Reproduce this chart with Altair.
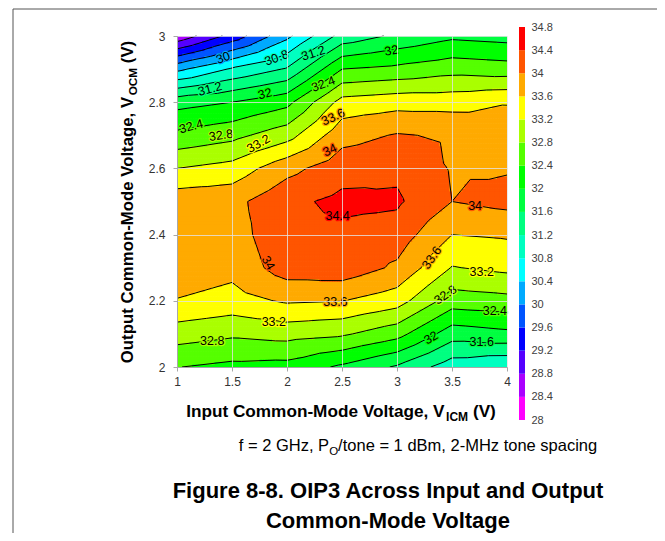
import altair as alt
import pandas as pd

# ------------------------------------------------------------------ data
vicm = [1.0, 1.5, 2.0, 2.5, 3.0, 3.5, 4.0]                                   # x grid, V
vocm = [2.0, 2.1, 2.2, 2.3, 2.4, 2.5, 2.6, 2.7, 2.8, 2.9, 3.0]               # y grid, V
# OIP3 (dBm): one row per VOCM value (2.0 ... 3.0), one column per VICM value (1 ... 4)
oip3_rows = [
    [32.41, 32.30, 32.26, 31.93, 31.55, 30.98, 30.83],   # 2.0
    [32.99, 32.87, 32.95, 32.86, 32.55, 31.78, 31.90],   # 2.1
    [33.58, 33.45, 33.65, 33.61, 33.38, 32.60, 32.67],   # 2.2
    [33.85, 33.72, 34.20, 34.25, 33.93, 33.18, 33.30],   # 2.3
    [33.90, 33.82, 34.30, 34.30, 34.22, 33.60, 33.65],   # 2.4
    [33.85, 33.88, 34.30, 34.50, 34.46, 34.00, 34.12],   # 2.5
    [33.20, 33.35, 33.87, 34.24, 34.32, 33.97, 33.97],   # 2.6
    [32.50, 32.68, 33.04, 33.85, 34.03, 33.95, 33.80],   # 2.7
    [31.85, 32.00, 32.28, 33.35, 33.45, 33.45, 33.58],   # 2.8
    [30.30, 30.85, 31.24, 32.40, 32.50, 32.65, 32.58],   # 2.9
    [28.50, 29.35, 30.30, 31.35, 31.68, 31.92, 31.85],   # 3.0
]
levels = [28.0, 28.4, 28.8, 29.2, 29.6, 30.0, 30.4, 30.8, 31.2, 31.6,
          32.0, 32.4, 32.8, 33.2, 33.6, 34.0, 34.4, 34.8]
band_colors = ["#FF00FF", "#AA00FF", "#5500FF", "#0000FF", "#0055FF", "#00AAFF",
               "#00FFFF", "#00FFC0", "#00FF80", "#00FF40", "#00FF00", "#55FF00",
               "#AAFF00", "#FFFF00", "#FFAA00", "#FF5500", "#FF0000"]
x_ticks = [1, 1.5, 2, 2.5, 3, 3.5, 4]
y_ticks = [2, 2.2, 2.4, 2.6, 2.8, 3]

# inline contour labels: position (V, V), level, text angle
label_vicm = [1.42, 1.906, 2.24, 2.95, 1.30, 1.80, 2.33, 1.13, 1.40, 1.74, 2.42, 2.39,
              1.83, 2.46, 2.44, 1.88, 1.32, 3.315, 3.44, 3.31, 3.71, 3.77, 3.89, 3.77]
label_vocm = [2.934, 2.934, 2.948, 2.956, 2.84, 2.825, 2.855, 2.727, 2.70, 2.675, 2.755, 2.655,
              2.314, 2.455, 2.197, 2.136, 2.08, 2.33, 2.218, 2.088, 2.485, 2.287, 2.168, 2.077]
label_level = [30.0, 30.8, 31.2, 32.0, 31.2, 32.0, 32.4, 32.4, 32.8, 33.2, 33.6, 34.0,
               34.0, 34.4, 33.6, 33.2, 32.8, 33.6, 32.8, 32.0, 34.0, 33.2, 32.4, 31.6]
label_angle = [-20, -20, -18, -10, -15, -15, -20, -15, -8, -30, -25, -25,
               60, 0, 0, 0, 0, -55, -35, -30, 0, 0, 0, 0]

# ------------------------------------------------------------------ helpers
FONT = "Liberation Sans"
W, H = 330, 331
NXg, NYg = len(vicm), len(vocm)
X0, Y0 = vicm[0], vocm[0]
DX = vicm[1] - vicm[0]
DY = round(vocm[1] - vocm[0], 10)

grid_df = pd.DataFrame(
    [{"key": f"{i}_{j}", "v": oip3_rows[j][i]} for j in range(NYg) for i in range(NXg)]
)
thresholds = levels[1:-1]
color_scale = alt.Scale(type="threshold", domain=thresholds, range=band_colors)
xs = alt.Scale(domain=[vicm[0], vicm[-1]], nice=False, zero=False)
ys = alt.Scale(domain=[vocm[0], vocm[-1]], nice=False, zero=False)

axis_common = dict(format="~g", title=None, grid=True, gridColor="#e4e4e4", gridOpacity=0.8,
                   gridWidth=1, domainColor="#a8a8a8", tickColor="#a8a8a8", tickSize=4,
                   labelFlush=False, labelFont=FONT, labelFontSize=12, labelColor="#333333",
                   zindex=1)
x_axis = alt.Axis(values=x_ticks, labelPadding=5, **axis_common)
y_axis = alt.Axis(values=y_ticks, labelPadding=8, **axis_common)

KEYS = dict(
    ka="datum.gi + '_' + datum.gj",
    kb="(datum.gi + 1) + '_' + datum.gj",
    kc="(datum.gi + 1) + '_' + (datum.gj + 1)",
    kd="datum.gi + '_' + (datum.gj + 1)",
)


def with_corners(ch):
    for nm, k in (("va", "ka"), ("vb", "kb"), ("vc", "kc"), ("vd", "kd")):
        ch = ch.transform_lookup(lookup=k,
                                 from_=alt.LookupData(data=grid_df, key="key", fields=["v"]),
                                 as_=[nm])
    return ch.transform_calculate(m="(datum.va + datum.vb + datum.vc + datum.vd) / 4")


# ------------------------------------------------------------------ filled bands (raster of the
# piecewise-linear surface: each grid cell split into 4 triangles around its centre)
NX, NY = 132, 132
sx = (vicm[-1] - X0) / NX
sy = (vocm[-1] - Y0) / NY
VAL = (
    "(datum.ty <= min(datum.tx, 1 - datum.tx)) ? "
    "(datum.va + (datum.vb - datum.va) * datum.tx + (2 * datum.m - datum.va - datum.vb) * datum.ty) : "
    "((1 - datum.tx) <= min(datum.ty, 1 - datum.ty)) ? "
    "(datum.vb + (datum.vc - datum.vb) * datum.ty + (2 * datum.m - datum.vb - datum.vc) * (1 - datum.tx)) : "
    "((1 - datum.ty) <= min(datum.tx, 1 - datum.tx)) ? "
    "(datum.vd + (datum.vc - datum.vd) * datum.tx + (2 * datum.m - datum.vc - datum.vd) * (1 - datum.ty)) : "
    "(datum.va + (datum.vd - datum.va) * datum.ty + (2 * datum.m - datum.va - datum.vd) * datum.tx)"
)
raster = alt.Chart(alt.sequence(0, NX * NY, as_="idx")).transform_calculate(
    ci=f"datum.idx % {NX}",
    cj=f"floor(datum.idx / {NX})",
).transform_calculate(
    fx=f"{X0} + (datum.ci + 0.5) * {sx}",
    fy=f"{Y0} + (datum.cj + 0.5) * {sy}",
    rx0=f"{X0} + datum.ci * {sx}",
    rx1=f"{X0} + (datum.ci + 1.25) * {sx}",
    ry0=f"{Y0} + datum.cj * {sy}",
    ry1=f"{Y0} + (datum.cj + 1.25) * {sy}",
).transform_calculate(
    gi=f"min(floor((datum.fx - {X0}) / {DX}), {NXg - 2})",
    gj=f"min(floor((datum.fy - {Y0}) / {DY}), {NYg - 2})",
).transform_calculate(
    tx=f"(datum.fx - {X0}) / {DX} - datum.gi",
    ty=f"(datum.fy - {Y0}) / {DY} - datum.gj",
    **KEYS,
)
raster = with_corners(raster).transform_calculate(val=VAL).mark_rect(clip=True).encode(
    x=alt.X("rx0:Q", scale=xs, axis=x_axis), x2="rx1:Q",
    y=alt.Y("ry0:Q", scale=ys, axis=y_axis), y2="ry1:Q",
    color=alt.Color("val:Q", scale=color_scale, legend=None),
)

# ------------------------------------------------------------------ contour lines
NL = len(thresholds)
ncell = (NXg - 1) * (NYg - 1)
thr_js = "[" + ",".join(str(t) for t in thresholds) + "]"
lines = alt.Chart(alt.sequence(0, ncell * 4 * NL, as_="idx")).transform_calculate(
    lv=f"datum.idx % {NL}",
    tri=f"floor(datum.idx / {NL}) % 4",
    cell=f"floor(datum.idx / {4 * NL})",
).transform_calculate(
    gi=f"datum.cell % {NXg - 1}",
    gj=f"floor(datum.cell / {NXg - 1})",
    L=f"{thr_js}[datum.lv]",
).transform_calculate(
    x0=f"{X0} + datum.gi * {DX}",
    x1=f"{X0} + (datum.gi + 1) * {DX}",
    y0=f"{Y0} + datum.gj * {DY}",
    y1=f"{Y0} + (datum.gj + 1) * {DY}",
    xm=f"{X0} + (datum.gi + 0.5) * {DX}",
    ym=f"{Y0} + (datum.gj + 0.5) * {DY}",
    **KEYS,
)
lines = with_corners(lines).transform_calculate(
    Px="[datum.x0, datum.x1, datum.x1, datum.x0][datum.tri]",
    Py="[datum.y0, datum.y0, datum.y1, datum.y1][datum.tri]",
    Qx="[datum.x1, datum.x1, datum.x0, datum.x0][datum.tri]",
    Qy="[datum.y0, datum.y1, datum.y1, datum.y0][datum.tri]",
    vP="[datum.va, datum.vb, datum.vc, datum.vd][datum.tri]",
    vQ="[datum.vb, datum.vc, datum.vd, datum.va][datum.tri]",
).transform_calculate(
    sP="datum.vP >= datum.L",
    sQ="datum.vQ >= datum.L",
    sM="datum.m >= datum.L",
).transform_calculate(
    ePQ="datum.sP != datum.sQ",
    eQM="datum.sQ != datum.sM",
    eMP="datum.sM != datum.sP",
).transform_filter(
    "datum.ePQ || datum.eQM || datum.eMP"
).transform_calculate(
    tPQ="(datum.L - datum.vP) / (datum.vQ - datum.vP)",
    tQM="(datum.L - datum.vQ) / (datum.m - datum.vQ)",
    tMP="(datum.L - datum.m) / (datum.vP - datum.m)",
).transform_calculate(
    xPQ="datum.Px + datum.tPQ * (datum.Qx - datum.Px)",
    yPQ="datum.Py + datum.tPQ * (datum.Qy - datum.Py)",
    xQM="datum.Qx + datum.tQM * (datum.xm - datum.Qx)",
    yQM="datum.Qy + datum.tQM * (datum.ym - datum.Qy)",
    xMP="datum.xm + datum.tMP * (datum.Px - datum.xm)",
    yMP="datum.ym + datum.tMP * (datum.Py - datum.ym)",
).transform_calculate(
    ax="datum.ePQ ? datum.xPQ : datum.xQM",
    ay="datum.ePQ ? datum.yPQ : datum.yQM",
    bx="datum.eMP ? datum.xMP : datum.xQM",
    by="datum.eMP ? datum.yMP : datum.yQM",
).mark_rule(color="black", strokeWidth=1).encode(
    x=alt.X("ax:Q", scale=xs, axis=x_axis), x2="bx:Q",
    y=alt.Y("ay:Q", scale=ys, axis=y_axis), y2="by:Q",
)

# ------------------------------------------------------------------ contour labels
lab_df = pd.DataFrame({
    "lx": label_vicm, "ly": label_vocm, "lvl": label_level,
    "ang": [a % 360 for a in label_angle],
})
lab_base = alt.Chart(lab_df).transform_calculate(
    txt="format(datum.lvl, '~g')", hv="datum.lvl + 0.2"
)
lab_enc = dict(
    x=alt.X("lx:Q", scale=xs, axis=x_axis),
    y=alt.Y("ly:Q", scale=ys, axis=y_axis),
    text="txt:N",
    angle=alt.Angle("ang:Q", scale=None),
)
halo = lab_base.mark_text(font=FONT, fontSize=12.5, strokeWidth=2.5, strokeJoin="round").encode(
    fill=alt.Fill("hv:Q", scale=color_scale, legend=None),
    stroke=alt.Stroke("hv:Q", scale=color_scale, legend=None),
    **lab_enc,
)
labels = lab_base.mark_text(font=FONT, fontSize=12.5, color="black").encode(**lab_enc)

main = alt.layer(raster, lines, halo, labels)

# ------------------------------------------------------------------ colour bar
cb_df = pd.DataFrame({"lo": levels[:-1], "hi": levels[1:]})
cb_df["mid"] = (cb_df["lo"] + cb_df["hi"]) / 2
colorbar = alt.Chart(cb_df).mark_rect().encode(
    x=alt.value(W + 12), x2=alt.value(W + 18),
    y=alt.Y("lo:Q", scale=alt.Scale(domain=[levels[0], levels[-1]], range=[H + 53, -9], nice=False, zero=False),
            axis=alt.Axis(orient="right", values=levels, format="~g", domain=False, ticks=False,
                          tickSize=0, grid=False, offset=18, labelPadding=6, title=None,
                          labelFont=FONT, labelFontSize=11, labelColor="#404040",
                          labelOverlap=False)),
    y2="hi:Q",
    color=alt.Color("mid:Q", scale=color_scale, legend=None),
)

# ------------------------------------------------------------------ text with subscripts
REG = {' ': 278, '=': 584, '/': 278, ',': 278, '-': 333, '.': 278, '(': 333, ')': 333,
       'B': 667, 'G': 778, 'H': 722, 'M': 833, 'O': 778, 'P': 667, 'C': 722, 'I': 278, 'V': 667,
       'a': 556, 'c': 500, 'd': 556, 'e': 556, 'f': 278, 'g': 556, 'i': 222, 'm': 833,
       'n': 556, 'o': 556, 'p': 556, 's': 500, 't': 278, 'z': 500}
BOLD = {' ': 278, '=': 584, '/': 278, ',': 278, '-': 333, '.': 278, '(': 333, ')': 333,
        'C': 722, 'I': 278, 'M': 833, 'O': 778, 'V': 667, 'P': 667,
        'a': 556, 'd': 611, 'e': 556, 'g': 611, 'l': 278, 'm': 889, 'n': 611, 'o': 611,
        'p': 611, 't': 333, 'u': 611}


def tw(s, size, bold):
    tbl = BOLD if bold else REG
    return sum(tbl.get(c, 556) for c in s) * size / 1000.0


def rich_text(pieces, x, y, size, bold, angle=0):
    """pieces: list of (text, is_subscript, space_before)"""
    sub_size = size * 0.7
    offs = []
    total = 0.0
    for txt, sub, sp in pieces:
        if sp:
            total += tw(" ", size, bold)
        offs.append(total)
        total += tw(txt, sub_size if sub else size, bold)
    layers = []
    for (txt, sub, sp), off in zip(pieces, offs):
        layers.append(
            alt.Chart(alt.Data(values=[{}])).mark_text(
                text=txt, font=FONT, fontSize=sub_size if sub else size,
                fontWeight="bold" if bold else "normal", align="left", baseline="alphabetic",
                dx=off - total / 2, dy=size * 0.22 if sub else 0, angle=angle, color="black",
            ).encode(x=alt.value(x), y=alt.value(y))
        )
    return layers


def plain_text(txt, x, y, size, bold):
    return alt.Chart(alt.Data(values=[{}])).mark_text(
        text=txt, font=FONT, fontSize=size, fontWeight="bold" if bold else "normal",
        align="center", baseline="alphabetic", color="black",
    ).encode(x=alt.value(x), y=alt.value(y))


texts = []
texts += rich_text([("Input Common-Mode Voltage, V", False, False), ("ICM", True, False),
                    ("(V)", False, True)], 164, 381, 17.2, True)
texts += rich_text([("Output Common-Mode Voltage, V", False, False), ("OCM", True, False),
                    ("(V)", False, True)], -44, 166, 16.8, True, angle=270)
texts += rich_text([("f = 2 GHz, P", False, False), ("O", True, False),
                    ("/tone = 1 dBm, 2-MHz tone spacing", False, False)], 241, 415, 16.5, False)
texts.append(plain_text("Figure 8-8. OIP3 Across Input and Output", 211, 462, 22, True))
texts.append(plain_text("Common-Mode Voltage", 211, 492, 22, True))

frame = [
    alt.Chart(alt.Data(values=[{}])).mark_rule(color="#555555", strokeWidth=1).encode(
        x=alt.value(-164), y=alt.value(-27), y2=alt.value(H + 175)),
    alt.Chart(alt.Data(values=[{}])).mark_rule(color="#555555", strokeWidth=1).encode(
        x=alt.value(-164), x2=alt.value(W + 160), y=alt.value(-27)),
]

chart = alt.layer(main, colorbar, *texts, *frame).resolve_scale(y="independent").properties(
    width=W, height=H,
    padding={"left": 169, "top": 28, "right": 150, "bottom": 166},
    autosize=alt.AutoSizeParams(type="none"),
    background="white",
).configure_view(stroke=None)

chart.save("out.html", embed_options={"renderer": "svg", "actions": False})
